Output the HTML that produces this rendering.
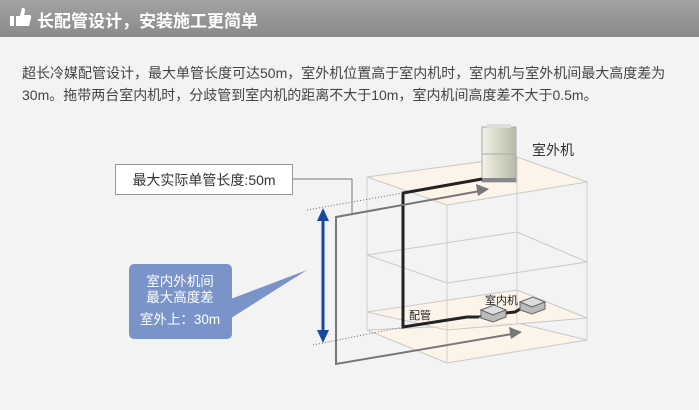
<!DOCTYPE html>
<html><head><meta charset="utf-8"><style>
body{margin:0;width:699px;height:410px;background:#f3f3f3;overflow:hidden;font-family:"Liberation Sans","Noto Sans CJK SC",sans-serif;position:relative}
.hd{position:absolute;left:0;top:0;width:699px;height:37px;background:linear-gradient(#a2a2a2,#8a8a8a);}
.hd span{position:absolute;left:37px;top:7px;color:#fff;font-weight:bold;font-size:17px;}
.p{position:absolute;left:22px;top:62px;font-size:14px;line-height:22px;color:#444;width:690px;white-space:nowrap}
svg{position:absolute;left:0;top:0}
</style></head><body>
<div class="hd">
<svg width="30" height="37" style="left:8px"><rect x="2" y="16" width="4" height="10" fill="#fff"/><path d="M8 16 L12 16 L14 8 Q17 7 17 11 L16 15 L22 15 Q24 16 23 18 L21 26 L8 26 Z" fill="#fff"/></svg>
<span>长配管设计，安装施工更简单</span></div>
<div class="p">超长冷媒配管设计，最大单管长度可达50m，室外机位置高于室内机时，室内机与室外机间最大高度差为<br>30m。拖带两台室内机时，分歧管到室内机的距离不大于10m，室内机间高度差不大于0.5m。</div>
<svg width="699" height="410" style="font-family:'Liberation Sans','Noto Sans CJK SC',sans-serif">
<defs><linearGradient id="ou" x1="0" x2="1"><stop offset="0" stop-color="#f2f2e6"/><stop offset="1" stop-color="#b9b9a6"/></linearGradient></defs>
<g stroke="#c8c8c8" stroke-width="1" fill="#fdf3e6" fill-opacity="0.85">
<polygon points="367,330 517,323 587,340 447,363"/>
<polygon points="367,312 517,290 587,318 447,330"/>
<polygon points="367,255 517,232 587,262 447,283" fill="none"/>
<polygon points="367,177 517,157 587,182 447,205"/>
</g>
<g stroke="#cfcfcf" fill="none"><line x1="367" y1="177" x2="367" y2="330"/><line x1="447" y1="205" x2="447" y2="363"/><line x1="587" y1="182" x2="587" y2="340"/><line x1="517" y1="157" x2="517" y2="323"/></g>
<rect x="482" y="127" width="34" height="55" fill="url(#ou)" stroke="#aaa"/>
<rect x="487" y="124" width="24" height="4" fill="#ddd"/>
<line x1="482" y1="154" x2="516" y2="154" stroke="#aaa"/>
<rect x="482" y="178" width="34" height="4" fill="#888"/>
<text x="532" y="155" font-size="14" fill="#333">室外机</text>
<polyline points="482,179 403,193 403,327 467,317" fill="none" stroke="#222" stroke-width="3"/>
<polyline points="467,317 480,317 495,314 515,312 527,305" fill="none" stroke="#222" stroke-width="3"/>
<g><polygon points="478,318 492,322 508,316 494,312" fill="#ccc"/>
<polygon points="481,310 494,305 506,310 493,315" fill="#ddd" stroke="#666"/><path d="M481 310 L481 318 L493 322 L506 317 L506 310 L493 315 Z" fill="#bbb" stroke="#666"/>
<polygon points="520,302 533,297 545,302 532,307" fill="#ddd" stroke="#666"/><path d="M520 302 L520 310 L532 314 L545 309 L545 302 L532 307 Z" fill="#bbb" stroke="#666"/></g>
<text x="409" y="319" font-size="11" fill="#222">配管</text>
<text x="485" y="304" font-size="11" fill="#222">室内机</text>
<polyline points="352,179 352,213" fill="none" stroke="#777"/>
<line x1="293" y1="179" x2="352" y2="179" stroke="#777"/>
<polyline points="480,191 336,217 336,364 512,334" fill="none" stroke="#777" stroke-width="2"/>
<polygon points="489,189 476,184 478,196" fill="#777"/>
<polygon points="522,332 509,327 511,339" fill="#777"/>
<line x1="307" y1="210" x2="403" y2="193" stroke="#666" stroke-dasharray="1,2"/>
<line x1="313" y1="345" x2="403" y2="327" stroke="#666" stroke-dasharray="1,2"/>
<line x1="323" y1="218" x2="323" y2="334" stroke="#1a47a0" stroke-width="3"/>
<polygon points="323,208 317,221 329,221" fill="#1a47a0"/>
<polygon points="323,343 317,330 329,330" fill="#1a47a0"/>
<rect x="115.5" y="164.5" width="177" height="30" fill="#fff" stroke="#999"/>
<text x="204" y="185" font-size="14" fill="#333" text-anchor="middle">最大实际单管长度:50m</text>
<polygon points="228,300 307,270 228,320" fill="#7a93c8"/>
<rect x="129" y="264" width="103" height="75" rx="5" fill="#7a93c8"/>
<text x="180" y="286" font-size="13.5" fill="#fff" text-anchor="middle">室内外机间</text>
<text x="180" y="302" font-size="13.5" fill="#fff" text-anchor="middle">最大高度差</text>
<text x="180" y="324" font-size="13.5" fill="#fff" text-anchor="middle">室外上：30m</text>
</svg>
</body></html>
